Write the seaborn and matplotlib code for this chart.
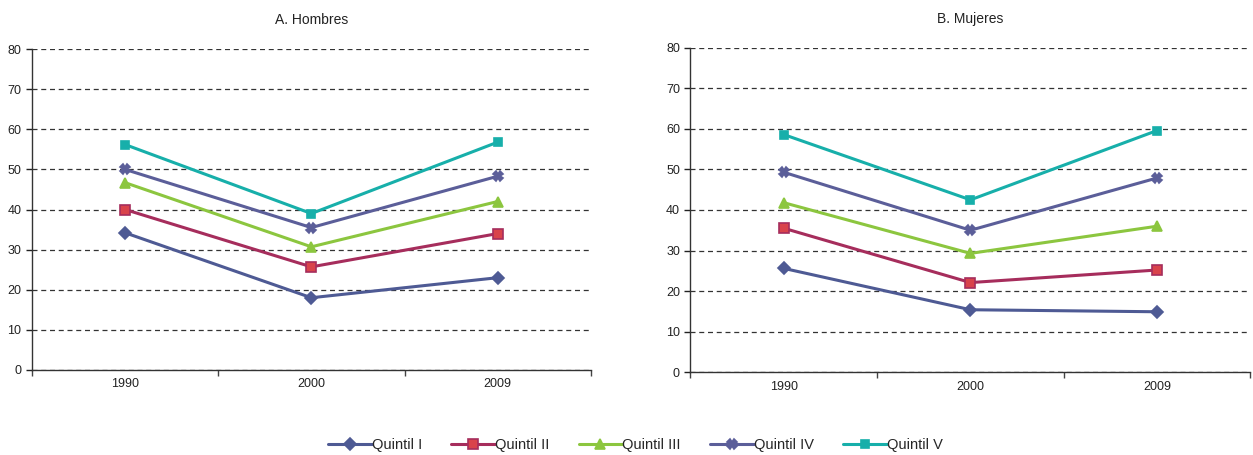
import seaborn as sns
import matplotlib.pyplot as plt
import pandas as pd

# years and quintile series
years = ["1990", "2000", "2009"]
quintiles = ["Quintil I", "Quintil II", "Quintil III", "Quintil IV", "Quintil V"]

hombres_q1 = [34.2, 18.0, 23.0]
hombres_q2 = [40.0, 25.7, 34.0]
hombres_q3 = [46.7, 30.7, 42.0]
hombres_q4 = [50.0, 35.5, 48.3]
hombres_q5 = [56.2, 39.0, 56.8]

mujeres_q1 = [25.6, 15.4, 14.9]
mujeres_q2 = [35.5, 22.1, 25.2]
mujeres_q3 = [41.8, 29.3, 36.0]
mujeres_q4 = [49.3, 35.0, 47.9]
mujeres_q5 = [58.6, 42.5, 59.6]

colors = ["#4E5A94", "#A62D5C", "#8CC63F", "#5B5E99", "#17AFAA"]
markers = ["D", "s", "^", "X", "s"]
msizes = [6, 7, 7, 7, 6]


def long_df(series):
    rows = []
    for q, vals in zip(quintiles, series):
        for y, v in zip(years, vals):
            rows.append({"year": y, "quintil": q, "value": v})
    return pd.DataFrame(rows)


hombres = long_df([hombres_q1, hombres_q2, hombres_q3, hombres_q4, hombres_q5])
mujeres = long_df([mujeres_q1, mujeres_q2, mujeres_q3, mujeres_q4, mujeres_q5])

sns.set_style("white")
plt.rcParams["font.family"] = ["Liberation Sans", "DejaVu Sans"]

fig = plt.figure(figsize=(12.53, 4.55), dpi=100)
ax1 = fig.add_axes([0.0255, 0.187, 0.446, 0.705])
ax2 = fig.add_axes([0.551, 0.182, 0.447, 0.713])

for ax, df, title in [(ax1, hombres, "A. Hombres"), (ax2, mujeres, "B. Mujeres")]:
    for i, q in enumerate(quintiles):
        sub = df[df["quintil"] == q]
        sns.lineplot(data=sub, x=[0, 1, 2], y="value", ax=ax, color=colors[i],
                     marker=markers[i], markersize=msizes[i], linewidth=2.2,
                     markeredgecolor=colors[i],
                     markerfacecolor="#D9434B" if i == 1 else colors[i],
                     markeredgewidth=1.2, label=q, legend=False)
    ax.set_xlim(-0.5, 2.5)
    ax.set_ylim(0, 80)
    ax.set_xticks([0, 1, 2])
    ax.set_xticklabels(years)
    ax.set_xticks([-0.5, 0.5, 1.5, 2.5], minor=True)
    ax.set_yticks(range(0, 90, 10))
    ax.tick_params(axis="x", which="major", bottom=False, length=0, labelsize=9,
                   colors="#222222", pad=6)
    ax.tick_params(axis="x", which="minor", bottom=True, length=4, width=1,
                   color="#444444", direction="out")
    ax.tick_params(axis="y", left=True, length=4, width=1, labelsize=9,
                   colors="#222222", direction="out")
    ax.yaxis.grid(True, linestyle=(0, (4, 3)), color="#333333", linewidth=0.9)
    ax.set_axisbelow(True)
    for s in ["top", "right"]:
        ax.spines[s].set_visible(False)
    for s in ["left", "bottom"]:
        ax.spines[s].set_color("#333333")
        ax.spines[s].set_linewidth(1.0)
    ax.set_xlabel("")
    ax.set_ylabel("")
    ax.set_title(title, fontsize=10, pad=18, color="#222222")

handles, labels = ax1.get_legend_handles_labels()
fig.legend(handles, labels, loc="center", bbox_to_anchor=(0.507, 0.022), ncol=5,
           frameon=False, fontsize=10.5, handlelength=3.0, columnspacing=2.0,
           handletextpad=0.0)

fig.savefig("out.png", dpi=100)
